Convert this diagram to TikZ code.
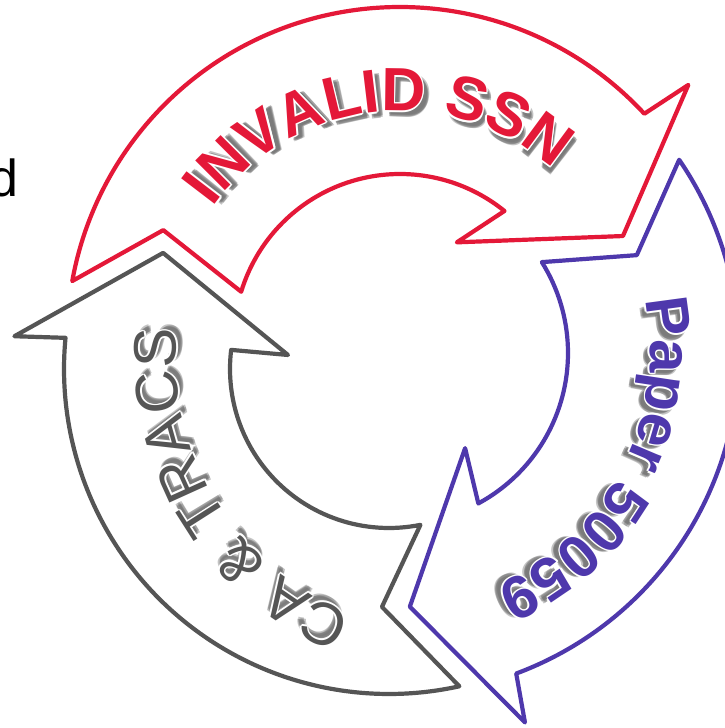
\documentclass[tikz,border=0pt]{standalone}
\usepackage{fontspec}
\setmainfont{Liberation Sans}
\usetikzlibrary{decorations.text}

\definecolor{ringred}{RGB}{228,24,56}
\definecolor{ringpurple}{RGB}{78,56,172}
\definecolor{ringgray}{RGB}{85,85,85}

\tikzset{ringarrow/.style={line width=4.2pt, line join=round, fill=white}}

% Curved label: centre, baseline radius, middle angle, colour, font size, weight, text.
% Drawn as a soft drop shadow, a white halo, then the coloured letters.
\newcommand\ringlabel[7]{%
  \pgfmathsetmacro\rlStart{#3+90}%
  \pgfmathsetmacro\rlEnd{#3-90}%
  \begin{scope}[opacity=0.42]
    \foreach \dd/\rr in {4/-4,5/-5,6/-6,6/-4,4/-6}{%
      \pgfmathsetmacro\rlS{\rlStart-\dd*180/(pi*#2)}%
      \pgfmathsetmacro\rlE{\rlEnd-\dd*180/(pi*#2)}%
      \path[decorate, decoration={text along path, text align=center, raise=\rr pt,
        text={|\fontsize{#5}{#5}\selectfont#6\color{black!55}|#7}}]
        (#1) ++(\rlS:#2) arc[start angle=\rlS, end angle=\rlE, radius=#2];
    }
  \end{scope}
  \foreach \hx/\hy in {1.6/0,-1.6/0,0/1.6,0/-1.6,1.1/1.1,-1.1/1.1,1.1/-1.1,-1.1/-1.1}{%
    \path[decorate, decoration={text along path, text align=center,
        text={|\fontsize{#5}{#5}\selectfont#6\color{white}|#7}}]
        (#1) ++(\hx,\hy) ++(\rlStart:#2) arc[start angle=\rlStart, end angle=\rlEnd, radius=#2];
  }
  \path[decorate, decoration={text along path, text align=center,
      text={|\fontsize{#5}{#5}\selectfont#6\color{#4}|#7}}]
      (#1) ++(\rlStart:#2) arc[start angle=\rlStart, end angle=\rlEnd, radius=#2];
}

\begin{document}
\begin{tikzpicture}[x=1pt,y=1pt]
\useasboundingbox (0,0) rectangle (725,728);
\fill[white] (0,0) rectangle (725,728);

% end of a word cut by the left edge
\node[anchor=base east, inner sep=0pt, font=\fontsize{52}{52}\selectfont] (cutword) at (18.5,531) {d};

% red arrow, top
\begin{scope}[shift={(400,388)}]
  \draw[ringarrow, draw=ringred]
    (169.8:333) -- (155.1:261) -- (163.1:166)
    arc[start angle=163.1, end angle=51.0, radius=166]
    -- (59.8:113) -- (25.0:246) -- (41.5:385) -- (42.8:333)
    arc[start angle=42.8, end angle=169.8, radius=333] -- cycle;
\end{scope}

% purple arrow, right
\begin{scope}[shift={(397,375)}]
  \draw[ringarrow, draw=ringpurple]
    (34.4:342) -- (22.2:259) -- (32.1:171)
    arc[start angle=32.1, end angle=-61.6, radius=171]
    -- (-54.4:117) -- (-87.1:254) -- (-70.9:391) -- (-69.6:342)
    arc[start angle=-69.6, end angle=34.4, radius=342] -- cycle;
\end{scope}

% gray arrow, left and bottom
\begin{scope}[shift={(389,359)}]
  \draw[ringarrow, draw=ringgray]
    (-77.5:325) -- (-91.7:238) -- (-78.6:159)
    arc[start angle=-78.6, end angle=-186.9, radius=159]
    -- (172.1:102) -- (152.8:254) -- (175.0:376) -- (174.5:325)
    arc[start angle=174.5, end angle=282.5, radius=325] -- cycle;
\end{scope}

\ringlabel{400,388}{229}{96.4}{ringred}{61}{\bfseries}{INVALID SSN}
\ringlabel{397,375}{253}{-27.5}{ringpurple}{60}{\bfseries}{Paper 50059}
\ringlabel{454,372}{278}{-148.5}{ringgray}{60}{\mdseries}{CA {\&} TRACS}
\end{tikzpicture}
\end{document}
